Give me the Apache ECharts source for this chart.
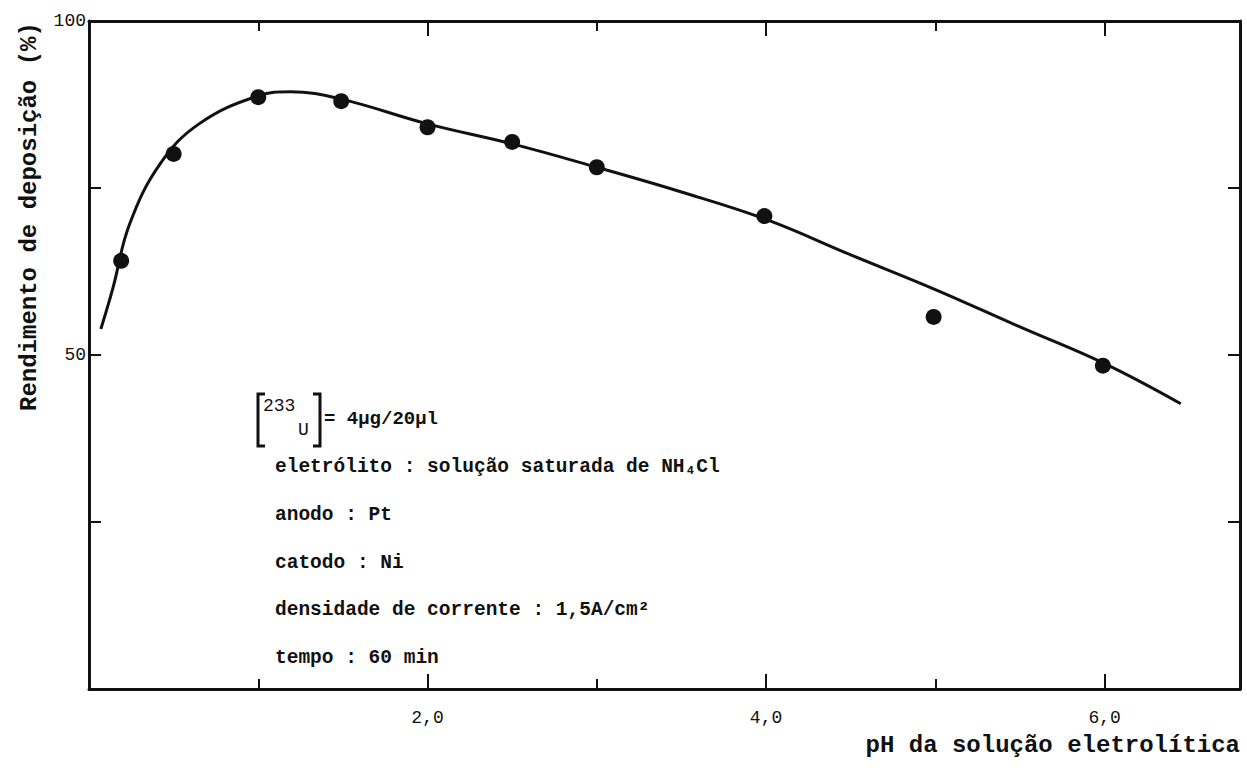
<!DOCTYPE html>
<html><head><meta charset="utf-8">
<script src="https://cdn.jsdelivr.net/npm/echarts@6/dist/echarts.min.js"></script>
<style>html,body{margin:0;padding:0;background:#fff}#c{width:1247px;height:768px}</style>
</head><body><div id="c"></div>
<script>
const phPoints = [0.19, 0.50, 1.0, 1.49, 2.0, 2.5, 3.0, 3.99, 4.99, 5.99];
const yieldPoints = [64.1, 80.1, 88.6, 88.0, 84.1, 81.9, 78.1, 70.8, 55.7, 48.4];
const curvePh = [0.07, 0.14, 0.24, 0.42, 0.65, 1.0, 1.19, 1.49, 2.0, 2.5, 3.0, 3.5, 4.0, 4.5, 5.0, 5.5, 6.0, 6.45];
const curveYield = [53.9, 59.9, 69.6, 78.6, 84.6, 88.8, 89.4, 88.3, 84.6, 81.6, 78.1, 74.4, 70.3, 65.0, 59.8, 54.2, 48.7, 42.7];
const xLabels = {2: '2,0', 4: '4,0', 6: '6,0'};
const yLabels = {50: '50', 100: '100'};
const annotLines = [
  'eletrólito : solução saturada de NH₄Cl',
  'anodo : Pt',
  'catodo : Ni',
  'densidade de corrente : 1,5A/cm²',
  'tempo : 60 min'
];
const mono = '"Liberation Mono", "DejaVu Sans Mono", monospace';
const ink = '#111';

const chart = echarts.init(document.getElementById('c'), null, {renderer: 'svg'});
function axisBase(extra) {
  return Object.assign({
    type: 'value', min: 0,
    axisLine: {show: true, onZero: false, lineStyle: {color: ink, width: 3}},
    axisTick: {show: true, inside: true, length: 12, lineStyle: {color: ink, width: 2}},
    splitLine: {show: false},
    axisLabel: {show: false}
  }, extra);
}
const xTickMajor = {show: true, inside: true, length: 15, lineStyle: {color: ink, width: 2}};
const xTickMinor = {show: true, splitNumber: 2, length: 10, lineStyle: {color: ink, width: 2}};
const annotGraphics = annotLines.map((t, i) => ({
  type: 'text', left: 275, top: 457 + i * 47.8,
  style: {text: t, font: 'bold 19.5px ' + mono, fill: ink}
}));

chart.setOption({
  animation: false,
  grid: {left: 89, right: 7, top: 21, bottom: 79},
  xAxis: [
    axisBase({position: 'bottom', max: 6.8, interval: 2, axisTick: xTickMajor, minorTick: xTickMinor,
      axisLabel: {show: true, margin: 20, color: ink, fontFamily: mono, fontSize: 18, formatter: v => xLabels[v] || ''}}),
    axisBase({position: 'top', max: 6.8, interval: 2, axisTick: xTickMajor, minorTick: xTickMinor})
  ],
  yAxis: [
    axisBase({position: 'left', max: 100, interval: 25,
      axisLabel: {show: true, margin: 3, color: ink, fontFamily: mono, fontSize: 18, formatter: v => yLabels[v] || ''}}),
    axisBase({position: 'right', max: 100, interval: 25})
  ],
  series: [
    {type: 'line', data: curvePh.map((x, i) => [x, curveYield[i]]), smooth: 0.4, symbol: 'none',
     lineStyle: {color: ink, width: 3}, z: 2},
    {type: 'scatter', data: phPoints.map((x, i) => [x, yieldPoints[i]]), symbol: 'circle', symbolSize: 16,
     itemStyle: {color: ink, opacity: 1}, z: 3}
  ],
  graphic: [
    {type: 'text', rotation: Math.PI / 2, x: 17, y: 411, style: {text: 'Rendimento de deposição (%)', font: 'bold 24px ' + mono, fill: ink, textAlign: 'left', textVerticalAlign: 'top'}},
    {type: 'text', right: 7, top: 733, style: {text: 'pH da solução eletrolítica', font: 'bold 24px ' + mono, fill: ink}},
    {type: 'polyline', shape: {points: [[265, 394], [258, 394], [258, 446], [265, 446]]}, style: {stroke: ink, lineWidth: 3, fill: null}},
    {type: 'polyline', shape: {points: [[313, 394], [320, 394], [320, 446], [313, 446]]}, style: {stroke: ink, lineWidth: 3, fill: null}},
    {type: 'text', left: 263, top: 397, style: {text: '233', font: '18px ' + mono, fill: ink}},
    {type: 'text', left: 298, top: 421, style: {text: 'U', font: '18px ' + mono, fill: ink}},
    {type: 'text', left: 324, top: 409, style: {text: '= 4µg/20µl', font: 'bold 19px ' + mono, fill: ink}}
  ].concat(annotGraphics)
});
</script></body></html>
